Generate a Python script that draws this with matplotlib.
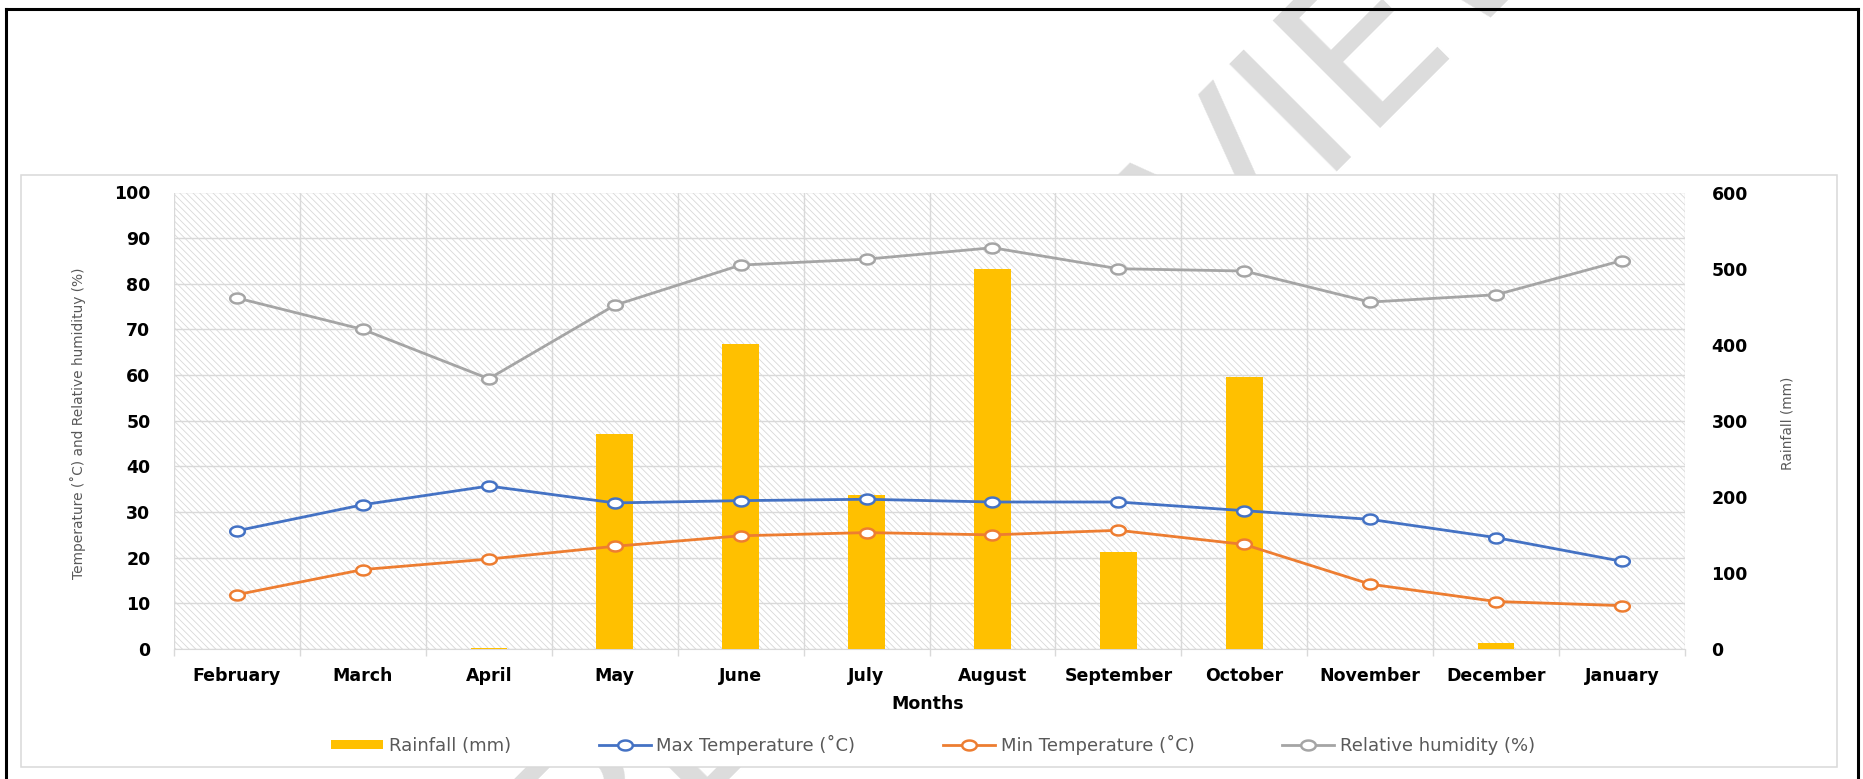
import matplotlib
matplotlib.use("Agg")
import matplotlib.pyplot as plt
import numpy as np
from matplotlib.lines import Line2D
from matplotlib.patches import Patch, Rectangle
from matplotlib.path import Path

months = ["February", "March", "April", "May", "June", "July", "August",
          "September", "October", "November", "December", "January"]
rainfall = [0, 0, 1.5, 282, 401, 203, 500, 127, 358, 0, 8, 0]
max_temp = [25.9, 31.6, 35.7, 32.0, 32.5, 32.8, 32.2, 32.2, 30.3, 28.4, 24.4, 19.2]
min_temp = [11.9, 17.4, 19.7, 22.5, 24.8, 25.5, 25.0, 26.0, 22.9, 14.2, 10.4, 9.5]
humidity = [76.9, 70.0, 59.2, 75.3, 84.1, 85.4, 87.9, 83.3, 82.8, 76.0, 77.6, 85.1]

left_ticks = list(range(0, 101, 10))
right_ticks = list(range(0, 601, 100))

C_RAIN = "#FFC000"
C_MAX = "#4472C4"
C_MIN = "#ED7D31"
C_RH = "#A5A5A5"
C_GRID = "#D9D9D9"
C_TXT = "#595959"

plt.rcParams["hatch.linewidth"] = 0.6

# slightly flattened circle, the source image is stretched sideways
_t = np.linspace(0, 2 * np.pi, 60)
ellipse = Path(np.column_stack([np.cos(_t), 0.68 * np.sin(_t)]), closed=True)

W, H = 1863, 779
fig = plt.figure(figsize=(W / 100, H / 100), dpi=100)

# watermark, sits under the chart area
fig.text(603 / W, 1 - 907 / H, "PEER REVIEW", rotation=45, rotation_mode="anchor",
         ha="left", va="baseline", fontsize=150, color="#DCDCDC", zorder=0)

# chart area
fig.patches.append(Rectangle((21 / W, 1 - 767 / H), (1837 - 21) / W, (767 - 175) / H,
                             transform=fig.transFigure, facecolor="white",
                             edgecolor=C_GRID, linewidth=1.1, zorder=0.5))

pos = [174 / W, 1 - 649 / H, (1685 - 174) / W, (649 - 192.5) / H]
ax = fig.add_axes(pos, zorder=1)
ax.add_patch(Rectangle((0, 0), 1, 1, transform=ax.transAxes, facecolor="white",
                       edgecolor="#D8D8D8", linewidth=0, hatch="\\" * 5, zorder=0))
x = np.arange(len(months))
ax.set_xlim(-0.5, len(months) - 0.5)
ax.set_ylim(0, 100)
ax.set_xticks(np.arange(-0.5, len(months), 1))
ax.set_xticklabels([])
ax.set_xticks(x, minor=True)
ax.set_xticklabels(months, minor=True, fontsize=12.5, fontweight="bold")
ax.tick_params(axis="x", which="major", length=5, color=C_GRID, width=1)
ax.tick_params(axis="x", which="minor", length=0, pad=13)
ax.set_yticks(left_ticks)
ax.tick_params(axis="y", length=0, pad=17, labelsize=12.5)
for lab in ax.get_yticklabels():
    lab.set_fontweight("bold")
ax.grid(True, which="major", color=C_GRID, linewidth=1.0)
ax.set_axisbelow(True)
for s in ["top", "left", "right"]:
    ax.spines[s].set_visible(False)
ax.spines["bottom"].set_color(C_GRID)
ax.set_xlabel("Months", fontsize=12.5, fontweight="bold")
ax.xaxis.set_label_coords(0.499, -0.1205)
ax.xaxis.label.set_va("center")
ax.set_ylabel("Temperature (˚C) and Relative humidituy (%)", fontsize=9.9, color=C_TXT)
ax.yaxis.set_label_coords(-0.0635, 0.495)
ax.yaxis.label.set_va("center")

# rainfall bars on the secondary axis
axr = ax.twinx()
axr.set_zorder(2)
axr.bar(x, rainfall, width=0.29, color=C_RAIN, zorder=2)
axr.set_ylim(0, 600)
axr.set_yticks(right_ticks)
axr.tick_params(axis="y", length=0, pad=19, labelsize=12.5)
for lab in axr.get_yticklabels():
    lab.set_fontweight("bold")
for s in axr.spines.values():
    s.set_visible(False)
axr.set_ylabel("Rainfall (mm)", fontsize=9.9, color=C_TXT)
axr.yaxis.set_label_coords(1.068, 0.495)
axr.yaxis.label.set_va("center")

# lines drawn on top of the bars
axl = fig.add_axes(pos, sharex=ax, sharey=ax, zorder=3)
axl.patch.set_visible(False)
axl.axis("off")
series = [(max_temp, C_MAX, "Max Temperature (˚C)"),
          (min_temp, C_MIN, "Min Temperature (˚C)"),
          (humidity, C_RH, "Relative humidity (%)")]
line_kw = dict(linewidth=2.0, marker=ellipse, markersize=10.5,
               markerfacecolor="white", markeredgewidth=1.8)
for vals, col, _ in series:
    axl.plot(x, vals, color=col, markeredgecolor=col, **line_kw)

handles = [Patch(facecolor=C_RAIN, edgecolor="none")]
labels = ["Rainfall (mm)"]
for vals, col, name in series:
    handles.append(Line2D([], [], color=col, markeredgecolor=col, **line_kw))
    labels.append(name)
leg = fig.legend(handles, labels, loc="center", bbox_to_anchor=(933 / W, 1 - 745 / H),
                 ncol=4, frameon=False, fontsize=13, handlelength=2.9, handleheight=0.45,
                 handletextpad=0.3, columnspacing=4.85, labelcolor=C_TXT)

# black frame of the surrounding table cell
frame_kw = dict(color="black", linewidth=2.2, transform=fig.transFigure, zorder=5)
fig.add_artist(Line2D([5.5 / W, 5.5 / W], [0, 1 - 9 / H], **frame_kw))
fig.add_artist(Line2D([5.5 / W, 1858 / W], [1 - 9 / H, 1 - 9 / H], **frame_kw))
fig.add_artist(Line2D([1858 / W, 1858 / W], [0, 1 - 9 / H], **frame_kw))

fig.savefig("out.png", dpi=100)
